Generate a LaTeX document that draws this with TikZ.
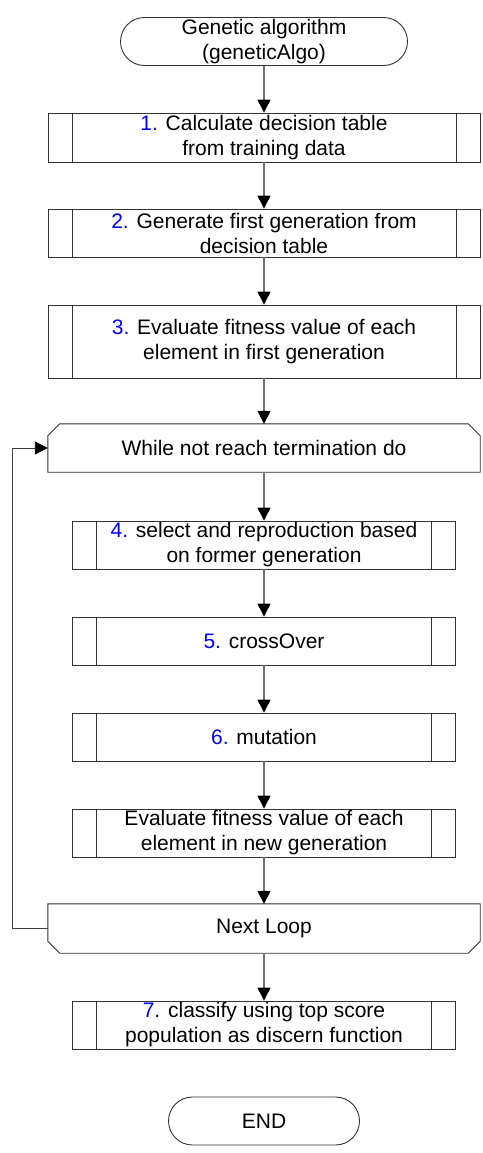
\documentclass[tikz,border=0pt]{standalone}
\usepackage{fontspec}
\setmainfont{Liberation Sans}
\usetikzlibrary{arrows.meta,shapes.misc}
\definecolor{numblue}{RGB}{0,0,255}
\newcommand{\stepno}[1]{{\color{numblue}#1}}
\tikzset{
  boxline/.style={draw=black!80, line width=0.9pt},
  txt/.style={font=\fontsize{21}{25}\selectfont, align=center, inner sep=0pt},
  terminal/.style={txt, boxline, rounded rectangle, minimum width=#1, minimum height=48pt},
  procbox/.style={txt, boxline, rectangle, minimum width=#1, minimum height=48pt,
    path picture={\draw[boxline]
      ([xshift=24pt]path picture bounding box.north west) -- ([xshift=24pt]path picture bounding box.south west)
      ([xshift=-24pt]path picture bounding box.north east) -- ([xshift=-24pt]path picture bounding box.south east);}},
  loopbox/.style={txt, rectangle, minimum width=432pt, minimum height=48pt},
  arr/.style={draw=black!55, line width=1.2pt, -{Triangle[width=13pt,length=13pt,color=black,fill=black]}},
  looparr/.style={draw=black!75, line width=0.9pt, -{Triangle[width=13pt,length=13pt,color=black,fill=black]}}
}
\begin{document}
\begin{tikzpicture}[x=1pt,y=-1pt]
  \useasboundingbox (0,0) rectangle (482,1153);
  % flow nodes
  \node[terminal=287pt] (start) at (264,41.5) {Genetic algorithm\\(geneticAlgo)};
  \node[procbox=432pt, minimum height=49pt] (calc) at (264,137.5) {\stepno{1.} Calculate decision table\\from training data};
  \node[procbox=432pt] (firstgen) at (264,233) {\stepno{2.} Generate first generation from\\decision table};
  \node[procbox=432pt, minimum height=73pt] (evalfirst) at (264,341.5) {\stepno{3.} Evaluate fitness value of each\\element in first generation};
  \node[loopbox] (while) at (264,448) {While not reach termination do};
  \node[procbox=383pt] (select) at (264,545) {\stepno{4.} select and reproduction based\\on former generation};
  \node[procbox=383pt] (cross) at (264,641) {\stepno{5.} crossOver};
  \node[procbox=383pt] (mutate) at (264,737) {\stepno{6.} mutation};
  \node[procbox=383pt] (evalnew) at (264,833) {Evaluate fitness value of each\\element in new generation};
  \node[loopbox, minimum height=49pt] (next) at (264,928.5) {Next Loop};
  \node[procbox=383pt] (classify) at (264,1025) {\stepno{7}. classify using top score\\population as discern function};
  \node[terminal=191pt] (end) at (264,1121) {END};
  % loop outlines
  \draw[boxline] ([yshift=-12pt]while.north west) -- ([xshift=12pt]while.north west)
    -- ([xshift=-12pt]while.north east) -- ([yshift=-12pt]while.north east)
    -- (while.south east) -- (while.south west) -- cycle;
  \draw[boxline] (next.north west) -- (next.north east) -- ([yshift=12pt]next.south east)
    -- ([xshift=-12pt]next.south east) -- ([xshift=12pt]next.south west)
    -- ([yshift=12pt]next.south west) -- cycle;
  % connectors
  \foreach \a/\b in {start/calc, calc/firstgen, firstgen/evalfirst, evalfirst/while,
      while/select, select/cross, cross/mutate, mutate/evalnew, evalnew/next, next/classify}
    \draw[arr] (\a.south) -- (\b.north);
  \coordinate (loopx) at (12,0);
  \draw[looparr] (next.west) -- (next.west -| loopx) |- (while.west);
\end{tikzpicture}
\end{document}
